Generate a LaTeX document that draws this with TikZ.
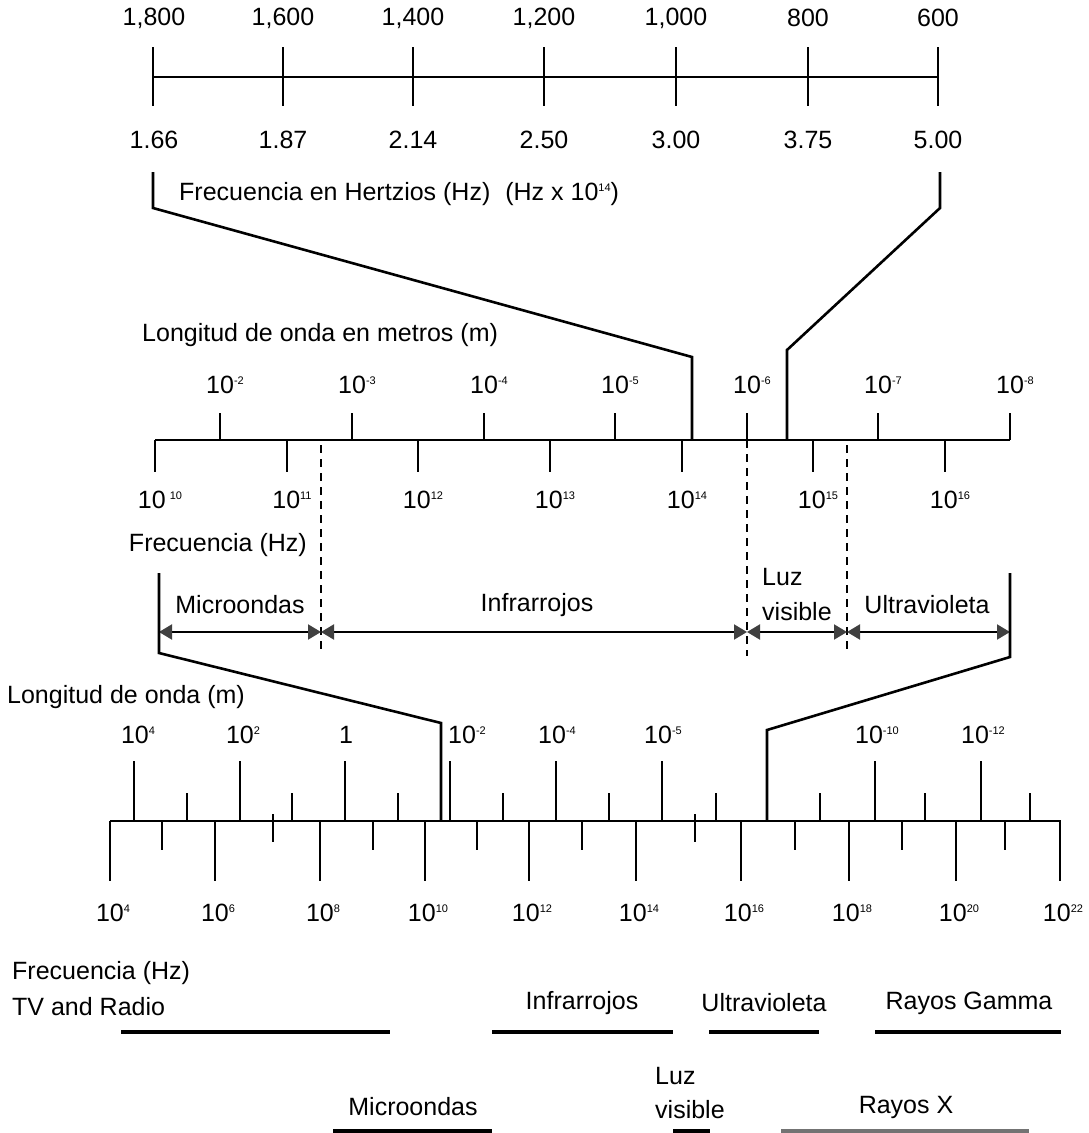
\documentclass[tikz,border=0pt]{standalone}
\usepackage{fontspec}
\setmainfont{Liberation Sans}
\usepackage{tikz}
\usetikzlibrary{arrows.meta}
\newcommand\tenexp[1]{10\raisebox{9pt}{\fontsize{11}{11}\selectfont #1}}

\begin{document}
\begin{tikzpicture}[x=1pt, y=-1pt,
  lbl/.style={inner sep=0pt, font=\fontsize{25}{30}\selectfont},
  axisline/.style={line width=2.2pt},
  tickmark/.style={line width=2.4pt},
  link/.style={line width=2.6pt, line join=miter},
  guide/.style={line width=1.3pt, dash pattern=on 8pt off 6pt},
  span/.style={line width=2pt,
    {Triangle[length=13pt,width=15pt,color=black!75]}-{Triangle[length=13pt,width=15pt,color=black!75]}},
  band/.style={line width=3.5pt}
]
  \useasboundingbox (0,0) rectangle (1088,1133);

  \node[lbl] (n1800) at (154,18) {1,800};
  \node[lbl] (n1600) at (283,18) {1,600};
  \node[lbl] (n1400) at (413,18) {1,400};
  \node[lbl] (n1200) at (544,18) {1,200};
  \node[lbl] (n1000) at (676,18) {1,000};
  \node[lbl] (n800) at (808,18) {800};
  \node[lbl] (n600) at (938,18) {600};
  \draw[axisline] (153,77) -- (938,77);
  \draw[tickmark] (153,47) -- (153,106) (283,47) -- (283,106) (413,47) -- (413,106)
    (544,47) -- (544,106) (676,47) -- (676,106) (808,47) -- (808,106) (938,47) -- (938,106);
  \node[lbl] (f166) at (154,140) {1.66};
  \node[lbl] (f187) at (283,140) {1.87};
  \node[lbl] (f214) at (413,140) {2.14};
  \node[lbl] (f250) at (544,140) {2.50};
  \node[lbl] (f300) at (676,140) {3.00};
  \node[lbl] (f375) at (808,140) {3.75};
  \node[lbl] (f500) at (938,140) {5.00};
  \node[lbl, anchor=west] (hertz) at (179,194) {Frecuencia en Hertzios (Hz)\hspace{15pt}(Hz x \tenexp{14})};

  \coordinate (ta1) at (153,172);
  \coordinate (ta2) at (153,208);
  \coordinate (ta3) at (692,357);
  \coordinate (ta4) at (692,440);
  \coordinate (tb1) at (940,172);
  \coordinate (tb2) at (940,208);
  \coordinate (tb3) at (787,350);
  \coordinate (tb4) at (787,440);
  \draw[link] (ta1) -- (ta2) -- (ta3) -- (ta4);
  \draw[link] (tb1) -- (tb2) -- (tb3) -- (tb4);

  \node[lbl, anchor=west] (lonm) at (142,335) {Longitud de onda en metros (m)};
  \node[lbl] (m2) at (225,385) {\tenexp{-2}};
  \node[lbl] (m3) at (357,385) {\tenexp{-3}};
  \node[lbl] (m4) at (489,385) {\tenexp{-4}};
  \node[lbl] (m5) at (620,385) {\tenexp{-5}};
  \node[lbl] (m6) at (752,385) {\tenexp{-6}};
  \node[lbl] (m7) at (883,385) {\tenexp{-7}};
  \node[lbl] (m8) at (1015,385) {\tenexp{-8}};
  \draw[axisline] (155,440) -- (1010,440);
  \draw[tickmark] (220,413) -- (220,440) (352,413) -- (352,440) (484,413) -- (484,440)
    (615,413) -- (615,440) (747,413) -- (747,440) (878,413) -- (878,440) (1010,413) -- (1010,440);
  \draw[tickmark] (155,440) -- (155,472) (287,440) -- (287,472) (418,440) -- (418,472)
    (550,440) -- (550,472) (682,440) -- (682,472) (813,440) -- (813,472) (945,440) -- (945,472);
  \node[lbl] (h10) at (160,500) {10\,\raisebox{9pt}{\fontsize{11}{11}\selectfont 10}};
  \node[lbl] (h11) at (292,500) {\tenexp{11}};
  \node[lbl] (h12) at (423,500) {\tenexp{12}};
  \node[lbl] (h13) at (555,500) {\tenexp{13}};
  \node[lbl] (h14) at (687,500) {\tenexp{14}};
  \node[lbl] (h15) at (818,500) {\tenexp{15}};
  \node[lbl] (h16) at (950,500) {\tenexp{16}};
  \node[lbl, anchor=east] (frq) at (307,545) {Frecuencia (Hz)};

  \coordinate (g1a) at (321,445);
  \coordinate (g1b) at (321,652);
  \coordinate (g2a) at (747,440);
  \coordinate (g2b) at (747,656);
  \coordinate (g3a) at (847,445);
  \coordinate (g3b) at (847,652);
  \draw[guide] (g1a) -- (g1b);
  \draw[guide] (g2a) -- (g2b);
  \draw[guide] (g3a) -- (g3b);

  \coordinate (s0) at (159,632);
  \coordinate (s1) at (321,632);
  \coordinate (s2) at (747,632);
  \coordinate (s3) at (847,632);
  \coordinate (s4) at (1010,632);
  \draw[span] (s0) -- (s1);
  \draw[span] (s1) -- (s2);
  \draw[span] (s2) -- (s3);
  \draw[span] (s3) -- (s4);
  \node[lbl] (micro) at (240,605) {Microondas};
  \node[lbl] (infra) at (537,605) {Infrarrojos};
  \node[lbl, anchor=west] (luz) at (762,577) {Luz};
  \node[lbl, anchor=west] (vis) at (762,612) {visible};
  \node[lbl] (ultra) at (927,605) {Ultravioleta};

  \coordinate (ba1) at (159,573);
  \coordinate (ba2) at (159,653);
  \coordinate (ba3) at (441,723);
  \coordinate (ba4) at (441,821);
  \coordinate (bb1) at (1010,573);
  \coordinate (bb2) at (1010,657);
  \coordinate (bb3) at (767,730);
  \coordinate (bb4) at (767,821);
  \draw[link] (ba1) -- (ba2) -- (ba3) -- (ba4);
  \draw[link] (bb1) -- (bb2) -- (bb3) -- (bb4);

  \node[lbl, anchor=west] (lon) at (7,697) {Longitud de onda (m)};
  \node[lbl] (l4) at (138,735) {\tenexp{4}};
  \node[lbl] (l2) at (243,735) {\tenexp{2}};
  \node[lbl] (l0) at (346,735) {1};
  \node[lbl] (lm2) at (467,735) {\tenexp{-2}};
  \node[lbl] (lm4) at (557,735) {\tenexp{-4}};
  \node[lbl] (lm5) at (663,735) {\tenexp{-5}};
  \node[lbl] (lm10) at (877,735) {\tenexp{-10}};
  \node[lbl] (lm12) at (983,735) {\tenexp{-12}};
  \draw[axisline] (110,821) -- (1061,821);
  \draw[tickmark] (134,761) -- (134,821) (240,761) -- (240,821) (345,761) -- (345,821)
    (450,761) -- (450,821) (556,761) -- (556,821) (662,761) -- (662,821)
    (875,761) -- (875,821) (981,761) -- (981,821);
  \draw[tickmark] (187,793) -- (187,821) (292,793) -- (292,821) (398,793) -- (398,821)
    (503,793) -- (503,821) (609,793) -- (609,821) (716,793) -- (716,821)
    (820,793) -- (820,821) (925,793) -- (925,821) (1030,793) -- (1030,821);
  \draw[tickmark] (110,821) -- (110,881) (215,821) -- (215,881) (320,821) -- (320,881)
    (425,821) -- (425,881) (529,821) -- (529,881) (636,821) -- (636,881)
    (741,821) -- (741,881) (849,821) -- (849,881) (956,821) -- (956,881) (1060,821) -- (1060,881);
  \draw[tickmark] (162,821) -- (162,850) (373,821) -- (373,850) (477,821) -- (477,850)
    (582,821) -- (582,850) (795,821) -- (795,850) (902,821) -- (902,850) (1005,821) -- (1005,850);
  \draw[tickmark] (273,814) -- (273,842) (695,814) -- (695,842);
  \node[lbl] (q4) at (113,913) {\tenexp{4}};
  \node[lbl] (q6) at (218,913) {\tenexp{6}};
  \node[lbl] (q8) at (323,913) {\tenexp{8}};
  \node[lbl] (q10) at (428,913) {\tenexp{10}};
  \node[lbl] (q12) at (532,913) {\tenexp{12}};
  \node[lbl] (q14) at (639,913) {\tenexp{14}};
  \node[lbl] (q16) at (744,913) {\tenexp{16}};
  \node[lbl] (q18) at (852,913) {\tenexp{18}};
  \node[lbl] (q20) at (959,913) {\tenexp{20}};
  \node[lbl] (q22) at (1063,913) {\tenexp{22}};

  \node[lbl, anchor=west] (frq2) at (12,973) {Frecuencia (Hz)};
  \node[lbl, anchor=west] (tv) at (12,1007) {TV and Radio};
  \node[lbl] (infra2) at (582,1003) {Infrarrojos};
  \node[lbl] (ultra2) at (764,1003) {Ultravioleta};
  \node[lbl] (gamma) at (969,1003) {Rayos Gamma};
  \coordinate (r1a) at (121,1032);
  \coordinate (r1b) at (390,1032);
  \coordinate (r2a) at (492,1032);
  \coordinate (r2b) at (673,1032);
  \coordinate (r3a) at (709,1032);
  \coordinate (r3b) at (819,1032);
  \coordinate (r4a) at (875,1032);
  \coordinate (r4b) at (1061,1032);
  \draw[band] (r1a) -- (r1b);
  \draw[band] (r2a) -- (r2b);
  \draw[band] (r3a) -- (r3b);
  \draw[band] (r4a) -- (r4b);

  \node[lbl] (micro2) at (413,1107) {Microondas};
  \node[lbl, anchor=west] (luz2) at (655,1076) {Luz};
  \node[lbl, anchor=west] (vis2) at (655,1110) {visible};
  \node[lbl] (xray) at (906,1107) {Rayos X};
  \coordinate (r5a) at (333,1131);
  \coordinate (r5b) at (492,1131);
  \coordinate (r6a) at (673,1131);
  \coordinate (r6b) at (710,1131);
  \coordinate (r7a) at (781,1131);
  \coordinate (r7b) at (1029,1131);
  \draw[band] (r5a) -- (r5b);
  \draw[band] (r6a) -- (r6b);
  \draw[band, black!55] (r7a) -- (r7b);
\end{tikzpicture}
\end{document}
